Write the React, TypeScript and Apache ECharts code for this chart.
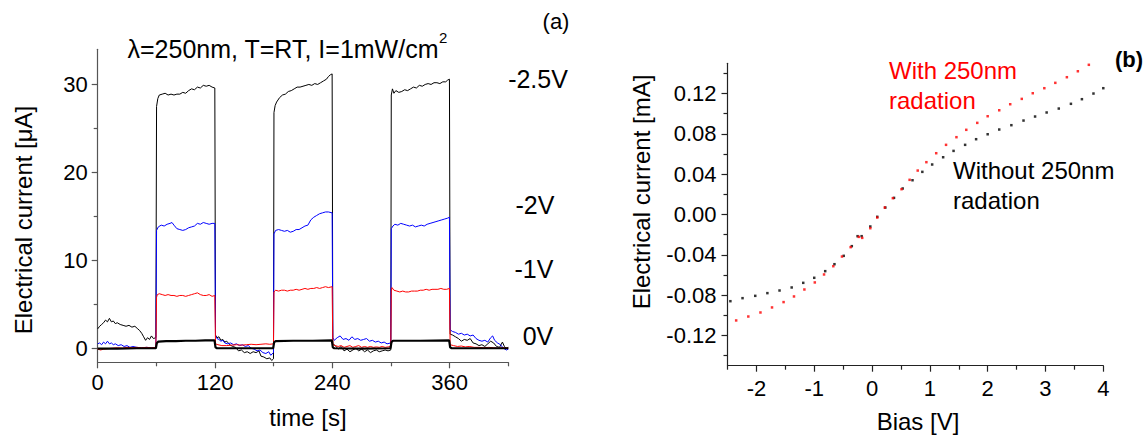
import React, { useEffect, useRef } from "react";
import * as echarts from "echarts";

// ---------- Panel (a): time traces ----------
const timeTicks = [0, 120, 240, 360];
const timeMinorTicks = [60, 180, 300, 420];
const currentTicks = [0, 10, 20, 30];
const currentMinorTicks = [5, 15, 25];

const trace25V: number[][] = [
  [0, 2.2], [2, 2.5], [4, 2.7], [6, 2.9], [8, 3.2], [10, 3.0], [12, 3.4], [14, 3.0], [16, 3.1], [18, 2.8],
  [20, 2.9], [23, 2.7], [26, 2.6], [29, 2.5], [32, 2.6], [35, 2.4], [38, 2.5], [41, 2.2], [43, 2.0], [45, 1.7],
  [47, 1.3], [49, 0.9], [51, 1.2], [53, 1.0], [55, 1.4], [57, 1.1], [59.5, 1.2], [60.2, 27.5], [61.5, 28.4],
  [63, 28.8], [66, 28.9], [69, 29.0], [72, 28.8], [75, 28.9], [78, 28.8], [81, 28.9], [84, 28.9], [87, 29.1],
  [90, 29.0], [93, 29.3], [96, 29.5], [99, 29.4], [102, 29.7], [105, 29.6], [108, 29.9], [111, 29.8], [114, 29.9],
  [117, 29.7], [119.8, 29.6], [120.5, 1.5], [122, 1.2], [124, 1.3], [126, 0.9], [128, 1.0], [130, 0.7], [132, 0.8],
  [135, 0.4], [138, 0.2], [141, 0.1], [144, -0.3], [147, -0.2], [150, -0.5], [153, -0.4], [156, -0.6], [159, -0.4],
  [162, -0.5], [165, -0.3], [167, -0.9], [170, -1.0], [173, -1.2], [176, -1.1], [178, -1.4], [179.8, -1.2],
  [180.3, 26.8], [181.5, 27.6], [183, 28.0], [186, 28.5], [189, 28.8], [192, 28.9], [195, 29.2], [198, 29.3],
  [201, 29.5], [204, 29.7], [207, 29.7], [210, 29.8], [213, 29.9], [216, 30.0], [219, 29.9], [222, 30.1],
  [225, 30.0], [228, 30.2], [231, 30.4], [234, 30.6], [236, 30.9], [238, 31.1], [239.8, 31.2], [240.5, 0.5],
  [243, 0.3], [246, -0.1], [249, 0.2], [252, -0.3], [255, -0.1], [258, -0.4], [261, -0.2], [264, 0.0], [267, -0.3],
  [270, -0.1], [273, -0.4], [276, -0.2], [279, -0.5], [282, -0.3], [285, -0.2], [288, -0.4], [291, -0.3],
  [294, -0.2], [297, -0.3], [299.8, -0.2], [300.3, 28.8], [301.5, 29.5], [303, 29.0], [305, 29.3], [308, 29.1],
  [311, 29.2], [314, 29.4], [317, 29.3], [320, 29.5], [323, 29.7], [326, 29.6], [329, 29.9], [332, 29.8],
  [335, 30.0], [338, 30.1], [341, 30.0], [344, 30.2], [347, 30.2], [350, 30.1], [353, 30.3], [356, 30.3],
  [358, 30.5], [359.8, 30.6], [360.5, 1.6], [363, 1.5], [366, 1.3], [369, 1.1], [372, 0.8], [375, 1.0], [378, 0.9],
  [381, 1.1], [384, 0.6], [387, 0.5], [390, 0.3], [393, 0.4], [396, 0.2], [399, 0.5], [402, 0.8], [405, 0.6],
  [408, 0.2], [411, 0.1], [414, 0.7], [416, 0.2], [418, 0.0], [420, 0.1],
];

const trace2V: number[][] = [
  [0, 0.5], [2, 0.6], [4, 0.4], [6, 0.7], [8, 0.5], [10, 0.8], [12, 0.5], [14, 0.6], [16, 0.4], [18, 0.5],
  [21, 0.3], [24, 0.4], [27, 0.2], [30, 0.3], [33, 0.1], [36, 0.2], [40, 0.1], [45, 0.05], [50, 0.1], [55, 0.05],
  [59.5, 0.1], [60.2, 13.4], [62, 13.8], [65, 14.0], [68, 13.9], [71, 14.1], [74, 14.2], [76, 14.3], [78, 14.0],
  [81, 13.6], [84, 13.5], [87, 13.4], [90, 13.5], [93, 13.7], [96, 13.8], [99, 13.9], [102, 14.2], [105, 14.1],
  [108, 14.3], [111, 14.2], [114, 14.1], [117, 14.2], [119.8, 14.2], [120.5, 1.4], [122, 1.1], [124, 1.0],
  [126, 0.8], [128, 0.9], [130, 0.6], [133, 0.5], [136, 0.6], [139, 0.4], [142, 0.5], [145, 0.3], [148, 0.4],
  [151, 0.2], [154, 0.3], [157, 0.0], [160, -0.1], [163, -0.3], [166, -0.2], [169, -0.5], [172, -0.6], [175, -0.4],
  [177, -0.8], [179.8, -0.5], [180.3, 13.0], [182, 13.4], [185, 13.5], [188, 13.4], [191, 13.3], [194, 13.4],
  [197, 13.2], [200, 13.3], [203, 13.5], [206, 13.5], [209, 13.7], [212, 13.9], [215, 14.0], [218, 14.6],
  [221, 14.9], [224, 15.1], [227, 15.3], [230, 15.4], [233, 15.5], [236, 15.5], [239.8, 15.4], [240.5, 1.2],
  [242, 0.9], [245, 1.2], [248, 1.4], [251, 1.0], [254, 1.1], [257, 0.9], [260, 1.3], [263, 1.0], [266, 1.1],
  [269, 0.9], [272, 1.0], [275, 1.1], [278, 0.8], [281, 0.9], [284, 0.7], [287, 0.8], [290, 0.6], [293, 0.7],
  [296, 0.5], [299.8, 0.6], [300.3, 13.6], [302, 13.9], [304, 14.1], [307, 14.0], [310, 14.2], [313, 14.1],
  [316, 14.0], [319, 13.9], [322, 14.0], [325, 13.8], [328, 13.9], [331, 14.0], [334, 13.9], [337, 14.1],
  [340, 14.2], [343, 14.3], [346, 14.4], [349, 14.5], [352, 14.6], [355, 14.7], [358, 14.8], [359.8, 14.9],
  [360.5, 2.1], [363, 1.9], [366, 1.8], [369, 1.6], [372, 1.7], [375, 1.5], [378, 1.6], [381, 1.4], [384, 1.5],
  [387, 1.1], [390, 0.9], [393, 0.8], [396, 0.9], [399, 0.7], [402, 1.2], [404, 1.4], [406, 0.9], [409, 0.6],
  [412, 0.4], [415, 0.0], [418, -0.2], [420, -0.1],
];

const trace1V: number[][] = [
  [0, -0.1], [3, -0.2], [6, -0.1], [10, -0.05], [15, 0.0], [20, 0.05], [25, 0.0], [30, 0.1], [35, 0.05],
  [40, 0.1], [45, 0.05], [50, 0.1], [55, 0.05], [59.5, 0.1], [60.2, 5.8], [61, 6.1], [63, 6.2], [66, 6.1],
  [69, 6.0], [72, 6.1], [75, 6.0], [78, 6.0], [81, 5.9], [84, 6.0], [87, 6.0], [90, 5.9], [93, 6.0], [96, 6.1],
  [99, 6.2], [102, 6.3], [105, 6.1], [108, 6.0], [111, 6.0], [114, 6.1], [117, 5.9], [119.8, 6.0], [120.5, 0.5],
  [123, 0.4], [127, 0.3], [132, 0.3], [137, 0.35], [142, 0.4], [147, 0.35], [152, 0.4], [157, 0.45], [162, 0.4],
  [167, 0.45], [172, 0.5], [176, 0.45], [179.8, 0.5], [180.3, 6.4], [182, 6.6], [185, 6.5], [188, 6.6],
  [191, 6.6], [194, 6.5], [197, 6.6], [200, 6.6], [203, 6.7], [206, 6.6], [209, 6.7], [212, 6.8], [215, 6.7],
  [218, 6.8], [221, 6.8], [224, 6.9], [227, 6.8], [230, 6.9], [233, 7.0], [236, 6.9], [239.8, 7.0], [240.5, 0.4],
  [243, 0.3], [246, 0.2], [249, 0.3], [252, 0.1], [255, 0.2], [258, 0.3], [261, 0.1], [264, 0.2], [267, 0.3],
  [270, 0.1], [273, 0.2], [276, 0.1], [279, 0.2], [282, 0.1], [285, 0.15], [288, 0.1], [291, 0.2], [294, 0.1],
  [297, 0.15], [299.8, 0.2], [300.3, 6.5], [301, 6.9], [303, 6.6], [306, 6.5], [309, 6.4], [312, 6.5],
  [315, 6.4], [318, 6.4], [321, 6.5], [324, 6.5], [327, 6.5], [330, 6.6], [333, 6.6], [336, 6.7], [339, 6.6],
  [342, 6.7], [345, 6.7], [348, 6.7], [351, 6.8], [354, 6.7], [357, 6.7], [359.8, 6.8], [360.5, 0.4], [364, 0.3],
  [368, 0.2], [372, 0.25], [376, 0.15], [380, 0.2], [385, 0.1], [390, 0.1], [395, 0.05], [400, 0.1], [405, 0.05],
  [410, 0.0], [415, 0.05], [420, 0.0],
];

const trace0V: number[][] = [
  [0, -0.05], [20, -0.05], [40, 0.0], [59.5, 0.0], [60.5, 0.6], [62, 0.75], [70, 0.8], [80, 0.8], [90, 0.85],
  [100, 0.85], [110, 0.9], [119.5, 0.9], [120.5, 0.1], [122, 0.0], [150, 0.0], [179.5, 0.0], [180.5, 0.7],
  [182, 0.8], [200, 0.85], [220, 0.85], [239.5, 0.9], [240.5, 0.1], [242, 0.0], [270, -0.05], [299.5, 0.0],
  [300.5, 0.7], [302, 0.85], [330, 0.85], [359.5, 0.9], [360.5, 0.1], [362, 0.0], [390, 0.0], [420, 0.0],
];

const voltageLabels = ["-2.5V", "-2V", "-1V", "0V"];

// ---------- Panel (b): I-V ----------
const biasTicks = [-2, -1, 0, 1, 2, 3, 4];
const biasMinorTicks = [-2.5, -1.5, -0.5, 0.5, 1.5, 2.5, 3.5];
const ivTicks = [-0.12, -0.08, -0.04, 0, 0.04, 0.08, 0.12];
const ivMinorTicks = [-0.14, -0.1, -0.06, -0.02, 0.02, 0.06, 0.1, 0.14];

const darkBias = [
  -2.45, -2.24, -2.02, -1.81, -1.6, -1.39, -1.19, -1.0, -0.81, -0.65, -0.49, -0.35, -0.25, -0.18, -0.03, 0.09,
  0.23, 0.38, 0.53, 0.7, 0.87, 1.04, 1.23, 1.41, 1.61, 1.8, 2.0, 2.2, 2.41, 2.62, 2.82, 3.02, 3.23, 3.44, 3.63,
  3.83, 4.0,
];
const darkCurrent = [
  -0.086, -0.083, -0.0807, -0.078, -0.0754, -0.0724, -0.0678, -0.0628, -0.0562, -0.0493, -0.041, -0.0314,
  -0.0215, -0.0215, -0.0119, -0.0023, 0.0069, 0.0165, 0.0258, 0.034, 0.0423, 0.0496, 0.0568, 0.0631, 0.0691,
  0.0747, 0.0796, 0.0843, 0.0886, 0.0932, 0.0972, 0.1012, 0.1051, 0.1098, 0.1144, 0.12, 0.1253,
];
const uvBias = [
  -2.35, -2.14, -1.93, -1.73, -1.53, -1.35, -1.17, -0.99, -0.83, -0.67, -0.52, -0.37, -0.23, -0.17, -0.03, 0.09,
  0.22, 0.36, 0.51, 0.65, 0.79, 0.94, 1.11, 1.28, 1.46, 1.63, 1.82, 2.0, 2.2, 2.39, 2.59, 2.78, 2.98, 3.17, 3.37,
  3.56, 3.75,
];
const uvCurrent = [
  -0.1051, -0.1012, -0.0972, -0.0922, -0.0869, -0.0813, -0.0744, -0.0674, -0.0595, -0.0513, -0.0417, -0.0324,
  -0.0222, -0.0232, -0.0136, -0.003, 0.0069, 0.0162, 0.0251, 0.0344, 0.0436, 0.0519, 0.0608, 0.0691, 0.0767,
  0.084, 0.0909, 0.0975, 0.1034, 0.1094, 0.1147, 0.1203, 0.1253, 0.1306, 0.1362, 0.1421, 0.1485,
];

const FONT = 'Arial, "Liberation Sans", Helvetica, sans-serif';

function mainAxis(grid: number, min: number, max: number, ticks: number[], color: string, margin: number, fmt?: (v: number) => string) {
  return {
    gridIndex: grid,
    type: "value",
    min,
    max,
    axisLine: { show: true, onZero: false, lineStyle: { color, width: 1.2 } },
    axisTick: { show: true, inside: false, length: 6, customValues: ticks, lineStyle: { color, width: 1.2 } },
    axisLabel: {
      show: true,
      customValues: ticks,
      margin,
      fontSize: 22,
      fontFamily: FONT,
      color: "#000",
      formatter: fmt ? (v: number) => fmt(v) : undefined,
      showMinLabel: true,
      showMaxLabel: true,
    },
    splitLine: { show: false },
  };
}

function minorAxis(grid: number, min: number, max: number, ticks: number[], color: string, position: string) {
  return {
    gridIndex: grid,
    type: "value",
    min,
    max,
    position,
    offset: 0,
    axisLine: { show: false, onZero: false },
    axisTick: { show: true, inside: false, length: 4, customValues: ticks, lineStyle: { color, width: 1.2 } },
    axisLabel: { show: false },
    splitLine: { show: false },
  };
}

export default function App() {
  const ref = useRef<HTMLDivElement>(null);
  useEffect(() => {
    if (!ref.current) return;
    const chart = echarts.init(ref.current, undefined, { renderer: "svg" });
    const leftAxisColor = "#555";
    const rightAxisColor = "#222";
    const txt = (x: number, y: number, text: string, opts: any = {}) => ({
      type: "text",
      x,
      y,
      rotation: opts.rotation || 0,
      silent: true,
      style: {
        text,
        fill: opts.fill || "#000",
        fontSize: opts.fontSize || 24,
        fontFamily: FONT,
        fontWeight: opts.fontWeight || "normal",
        align: opts.align || "center",
        verticalAlign: "middle",
      },
    });
    const labelPos = [
      [538, 79],
      [535, 205],
      [534, 269],
      [538, 336],
    ];
    chart.setOption({
      animation: false,
      backgroundColor: "#fff",
      grid: [
        { left: 97.7, top: 49.3, width: 410.6, height: 313, containLabel: false, outerBoundsMode: "none" },
        { left: 727.5, top: 63.3, width: 375.8, height: 302.4, containLabel: false, outerBoundsMode: "none" },
      ],
      xAxis: [
        { ...mainAxis(0, 0, 420, timeTicks, leftAxisColor, 9), position: "bottom" },
        minorAxis(0, 0, 420, timeMinorTicks, leftAxisColor, "bottom"),
        { ...mainAxis(1, -2.5, 4, biasTicks, rightAxisColor, 12), position: "bottom" },
        minorAxis(1, -2.5, 4, biasMinorTicks, rightAxisColor, "bottom"),
      ],
      yAxis: [
        { ...mainAxis(0, -1.6, 34, currentTicks, leftAxisColor, 10), position: "left" },
        minorAxis(0, -1.6, 34, currentMinorTicks, leftAxisColor, "left"),
        { ...mainAxis(1, -0.15, 0.15, ivTicks, rightAxisColor, 11, (v) => v.toFixed(2)), position: "left" },
        minorAxis(1, -0.15, 0.15, ivMinorTicks, rightAxisColor, "left"),
      ],
      series: [
        { type: "line", xAxisIndex: 0, yAxisIndex: 0, data: trace25V, showSymbol: false, lineStyle: { color: "#000", width: 1 }, z: 2 },
        { type: "line", xAxisIndex: 0, yAxisIndex: 0, data: trace2V, showSymbol: false, lineStyle: { color: "#0000ff", width: 1 }, z: 3 },
        { type: "line", xAxisIndex: 0, yAxisIndex: 0, data: trace1V, showSymbol: false, lineStyle: { color: "#ff0000", width: 1 }, z: 4 },
        { type: "line", xAxisIndex: 0, yAxisIndex: 0, data: trace0V, showSymbol: false, lineStyle: { color: "#000", width: 2.2 }, z: 5 },
        {
          type: "scatter",
          xAxisIndex: 2,
          yAxisIndex: 2,
          data: darkBias.map((b, i) => [b, darkCurrent[i]]),
          symbol: "rect",
          symbolSize: 2.5,
          itemStyle: { color: "#000" },
        },
        {
          type: "scatter",
          xAxisIndex: 2,
          yAxisIndex: 2,
          data: uvBias.map((b, i) => [b, uvCurrent[i]]),
          symbol: "rect",
          symbolSize: 2.5,
          itemStyle: { color: "#ff0000" },
        },
      ],
      graphic: [
        txt(556, 21, "(a)", { fontSize: 22 }),
        txt(438.5, 48.5, "λ=250nm, T=RT, I=1mW/cm", { align: "right", fontSize: 25 }),
        txt(439, 37, "2", { align: "left", fontSize: 15 }),
        ...voltageLabels.map((l, i) => txt(labelPos[i][0], labelPos[i][1], l, { fontSize: 25 })),
        txt(23.5, 220, "Electrical current [μA]", { rotation: Math.PI / 2, fontSize: 24 }),
        txt(308, 417, "time [s]", { fontSize: 24 }),
        txt(641, 192, "Electrical current [mA]", { rotation: Math.PI / 2, fontSize: 24 }),
        txt(918, 421, "Bias [V]", { fontSize: 24 }),
        txt(889, 70, "With 250nm", { align: "left", fill: "#ff0000", fontSize: 24 }),
        txt(889, 100, "radation", { align: "left", fill: "#ff0000", fontSize: 24 }),
        txt(953, 170, "Without 250nm", { align: "left", fontSize: 24 }),
        txt(953, 200, "radation", { align: "left", fontSize: 24 }),
        txt(1129, 59, "(b)", { fontSize: 22, fontWeight: "bold" }),
      ],
    });
    return () => chart.dispose();
  }, []);
  return (
    <div
      ref={ref}
      style={{ position: "fixed", left: 0, top: 0, width: 1146, height: 435, background: "#fff" }}
    />
  );
}
